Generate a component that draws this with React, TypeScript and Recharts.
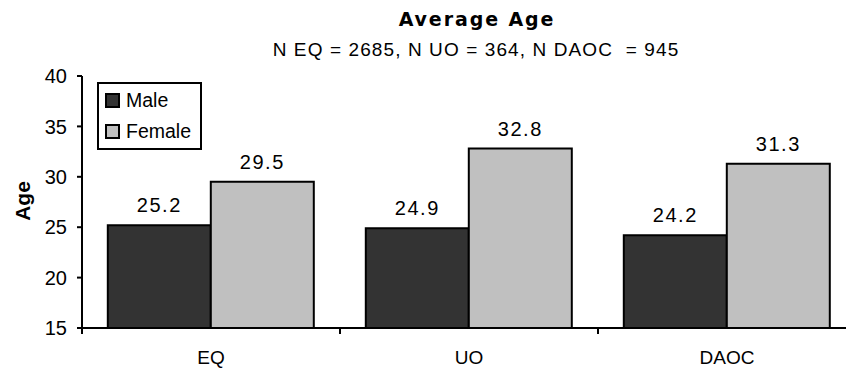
import { BarChart, Bar, XAxis, YAxis, Legend, LabelList } from 'recharts'

const games = ['EQ', 'UO', 'DAOC']
const maleAge = [25.2, 24.9, 24.2]
const femaleAge = [29.5, 32.8, 31.3]
const ageTicks = [15, 20, 25, 30, 35, 40]
const groupEdges = [0, 1, 2, 3]
const seriesOrder = ['Male', 'Female']

const data = games.map((game, i) => ({
  game,
  Male: maleAge[i],
  Female: femaleAge[i],
}))

const FONT = '"Liberation Sans", Arial, sans-serif'

function LegendBox({ payload }: any) {
  const items = [...(payload || [])].sort(
    (a: any, b: any) => seriesOrder.indexOf(a.value) - seriesOrder.indexOf(b.value)
  )
  return (
    <div
      style={{
        border: '2px solid #000',
        background: '#fff',
        padding: '1px 9px 1px 6px',
        fontFamily: FONT,
        fontSize: 19.5,
        color: '#000',
      }}
    >
      {items.map((item: any) => (
        <div key={item.value} style={{ display: 'flex', alignItems: 'center', height: 31 }}>
          <span
            style={{
              width: 11,
              height: 11,
              border: '2px solid #000',
              background: item.color,
              marginRight: 6,
            }}
          />
          <span>{item.value}</span>
        </div>
      ))}
    </div>
  )
}

function AgeLabel() {
  return (
    <text
      x={22}
      y={201}
      transform="rotate(-90 22 201)"
      textAnchor="middle"
      dominantBaseline="central"
      fontFamily={FONT}
      fontWeight="bold"
      fontSize={21}
      fill="#000"
    >
      Age
    </text>
  )
}

export default function App() {
  return (
    <div
      style={{
        position: 'absolute',
        left: 0,
        top: 0,
        width: 846,
        height: 371,
        overflow: 'hidden',
        background: '#fff',
      }}
    >
      <div
        style={{
          position: 'absolute',
          left: 0,
          width: 954,
          top: 10,
          textAlign: 'center',
          fontFamily: '"DejaVu Sans", sans-serif',
          fontWeight: 'bold',
          fontSize: 19,
          lineHeight: 1,
          letterSpacing: 1.9,
          zIndex: 2,
        }}
      >
        Average Age
      </div>
      <div
        style={{
          position: 'absolute',
          left: 0,
          width: 952,
          top: 40,
          textAlign: 'center',
          fontFamily: FONT,
          fontSize: 19,
          lineHeight: 1,
          letterSpacing: 1.1,
          whiteSpace: 'pre',
          zIndex: 2,
        }}
      >
        {'N EQ = 2685, N UO = 364, N DAOC  = 945'}
      </div>
      <BarChart
        width={860}
        height={371}
        data={data}
        margin={{ top: 76, right: 4, left: 0, bottom: 0 }}
        barCategoryGap="10%"
        barGap={0}
      >
        {/* tick marks at the group boundaries, drawn on a numeric helper axis */}
        <XAxis
          xAxisId="edges"
          type="number"
          dataKey={() => 0}
          domain={[0, groupEdges.length - 1]}
          allowDataOverflow
          ticks={groupEdges}
          interval={0}
          height={1}
          axisLine={{ stroke: '#000', strokeWidth: 2 }}
          tickLine={{ stroke: '#000', strokeWidth: 2 }}
          tickSize={6}
          tickFormatter={() => ''}
        />
        <XAxis
          xAxisId="labels"
          dataKey="game"
          height={42}
          axisLine={false}
          tickLine={false}
          tickSize={0}
          tickMargin={22}
          tick={{ fill: '#000', fontSize: 19, fontFamily: FONT }}
        />
        <YAxis
          width={82}
          domain={[15, 40]}
          ticks={ageTicks}
          allowDataOverflow
          axisLine={{ stroke: '#000', strokeWidth: 2 }}
          tickLine={{ stroke: '#000', strokeWidth: 2 }}
          tickSize={5}
          tickMargin={10}
          tick={{ fill: '#000', fontSize: 20, fontFamily: FONT }}
          label={<AgeLabel />}
        />
        <Legend
          layout="vertical"
          align="center"
          verticalAlign="middle"
          content={<LegendBox />}
          wrapperStyle={{ left: 97, top: 82, width: 'auto', height: 'auto' }}
        />
        <Bar
          xAxisId="labels"
          dataKey="Male"
          fill="#333333"
          stroke="#000"
          strokeWidth={2}
          isAnimationActive={false}
        >
          <LabelList
            dataKey="Male"
            position="top"
            offset={13}
            fill="#000"
            fontSize={20}
            fontFamily={FONT}
            letterSpacing={1.5}
          />
        </Bar>
        <Bar
          xAxisId="labels"
          dataKey="Female"
          fill="#c0c0c0"
          stroke="#000"
          strokeWidth={2}
          isAnimationActive={false}
        >
          <LabelList
            dataKey="Female"
            position="top"
            offset={13}
            fill="#000"
            fontSize={20}
            fontFamily={FONT}
            letterSpacing={1.5}
          />
        </Bar>
      </BarChart>
    </div>
  )
}
